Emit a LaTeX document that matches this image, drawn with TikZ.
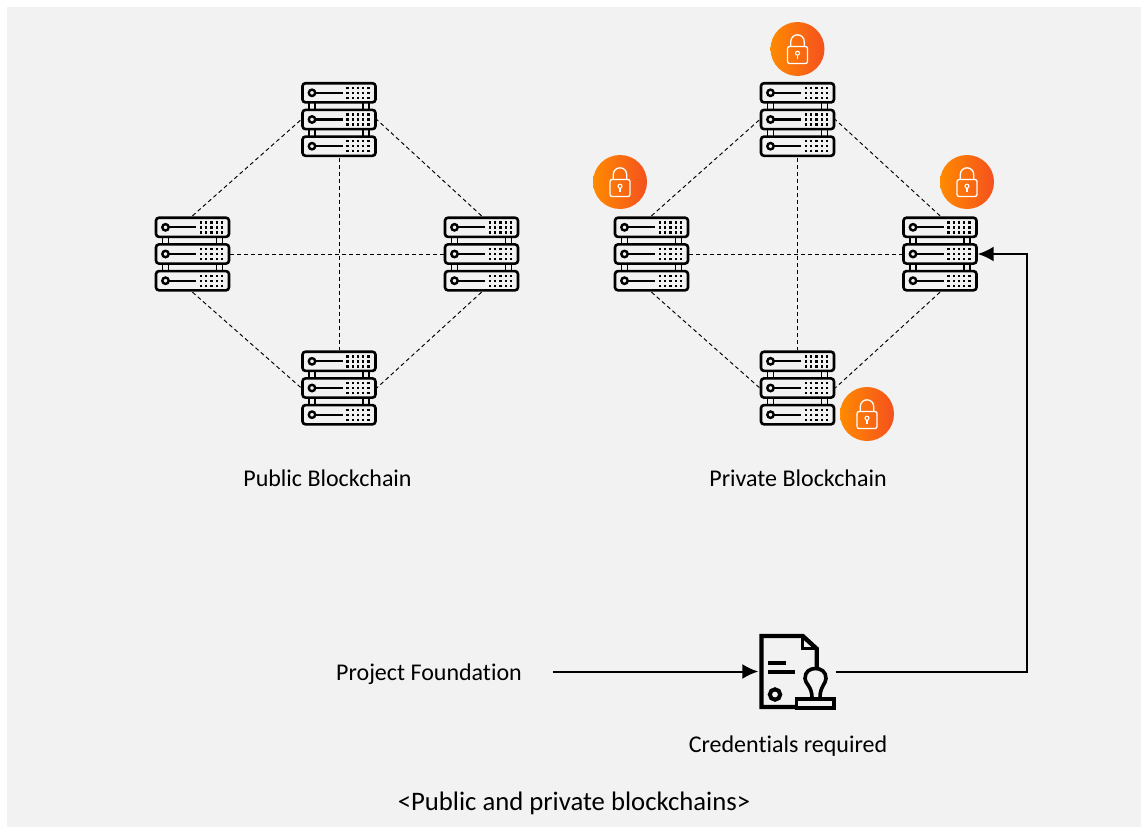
\documentclass[tikz,border=0pt]{standalone}
\usepackage{fontspec}
\setmainfont[Ligatures=NoCommon]{Carlito}
\usetikzlibrary{arrows.meta}
\definecolor{panelgray}{HTML}{F2F2F2}
\definecolor{lockleft}{HTML}{FF8A00}
\definecolor{lockright}{HTML}{F4511E}
\tikzset{
  serverbox/.style={minimum width=75pt,minimum height=76pt,inner sep=0pt},
  stampbox/.style={minimum width=77pt,minimum height=76pt,inner sep=0pt},
  lockbadge/.style={circle,minimum size=54pt,inner sep=0pt,left color=lockleft,right color=lockright},
  caption/.style={font=\fontsize{24}{29}\selectfont},
  peerline/.style={line width=.95pt,dash pattern=on 4pt off 3pt},
  flowline/.style={line width=2pt,-{Latex[length=16pt,width=15pt]}},
  serverrack/.pic={
    \draw[line width=2.6pt,rounded corners=3pt] (-36.5,-9.6) rectangle (36.5,9.6);
    \draw[line width=2.4pt] (-27,0) circle (3.2pt);
    \draw[line width=2.2pt] (-24,0) -- (3.5,0);
    \foreach \row in {-5,0,5}
      \foreach \col in {8.5,13.75,19,24.25,29.5}
        \fill (\col-1.2,\row-1.2) rectangle (\col+1.2,\row+1.2);
  },
  serverstack/.pic={
    \foreach \ypos in {-26.7,0,26.7}
      \pic at (0,\ypos) {serverrack};
    \foreach \ypos in {-13.35,13.35} {
      \draw[line width=1.8pt] (-30,\ypos-3) -- (-30,\ypos+3) (-24,\ypos-3) -- (-24,\ypos+3);
      \draw[line width=1.8pt] (24,\ypos-3) -- (24,\ypos+3) (30,\ypos-3) -- (30,\ypos+3);
    }
  },
  lockicon/.pic={
    \draw[white,line width=1.3pt,rounded corners=2pt] (-10,-2.5) rectangle (10,14.5);
    \draw[white,line width=1.3pt] (-6.7,-2.5) -- (-6.7,-7.5) arc (180:360:6.7) -- (6.7,-2.5);
    \draw[white,line width=1.1pt] (0,4.2) circle (2pt);
    \draw[white,line width=1.1pt] (0,6.2) -- (0,9.5);
  },
  stampicon/.pic={
    \draw[line width=4.4pt,miter limit=4] (-1,35.5) -- (-35.5,35.5) -- (-35.5,-35.5) -- (5.7,-35.5) -- (19.7,-22.7) -- (19.7,-4);
    \draw[line width=3.4pt] (5.7,-35.5) -- (5.7,-23) -- (19.7,-23);
    \draw[line width=4pt] (-29,-8.7) -- (-11,-8.7) (-29,.7) -- (-2,.7);
    \draw[line width=4pt] (-22,23) circle (5.2pt);
    \draw[line width=3.6pt] (-.5,27.2) rectangle (37,36.5);
    \draw[line width=3.6pt] (15,26) .. controls (15,15) and (8,12) .. (8,7)
      .. controls (8,0) and (13,-3) .. (18.5,-3)
      .. controls (24,-3) and (29,0) .. (29,7)
      .. controls (29,12) and (23,15) .. (23,26);
  }
}
\begin{document}
\begin{tikzpicture}[x=1pt,y=-1pt]
  \useasboundingbox (0,0) rectangle (1141,827);
  \fill[panelgray] (7,7) rectangle (1141,827);

  \foreach \name/\xpos/\ypos in {pubtop/339/119.5,publeft/192.5/254,pubright/481.5/254,pubbottom/339/388,
                                 privtop/797.5/119.5,privleft/651.5/254,privright/940/254,privbottom/797.5/388} {
    \node[serverbox] (\name) at (\xpos,\ypos) {};
    \pic at (\xpos,\ypos) {serverstack};
  }

  \draw[peerline] (pubtop.south) -- (pubbottom.north);
  \draw[peerline] (publeft.east) -- (pubright.west);
  \draw[peerline] (publeft.north) -- (pubtop.west);
  \draw[peerline] (pubright.north) -- (pubtop.east);
  \draw[peerline] (publeft.south) -- (pubbottom.west);
  \draw[peerline] (pubright.south) -- (pubbottom.east);

  \draw[peerline] (privtop.south) -- (privbottom.north);
  \draw[peerline] (privleft.east) -- (privright.west);
  \draw[peerline] (privleft.north) -- (privtop.west);
  \draw[peerline] (privright.north) -- (privtop.east);
  \draw[peerline] (privleft.south) -- (privbottom.west);
  \draw[peerline] (privright.south) -- (privbottom.east);

  \foreach \name/\xpos/\ypos in {locktop/797.5/49,lockleft/620/182,lockright/967/182,lockbottom/867/414} {
    \node[lockbadge] (\name) at (\xpos,\ypos) {};
    \pic at (\xpos,\ypos) {lockicon};
  }

  \node[caption] (publabel) at (327.5,478) {Public Blockchain};
  \node[caption] (privlabel) at (798,478) {Private Blockchain};
  \node[caption] (foundation) at (429,674) {Project Foundation};
  \node[caption] (credlabel) at (788,746) {Credentials required};
  \node[font=\fontsize{26.7}{32}\selectfont] (title) at (574,803) {<Public and private blockchains>};

  \node[stampbox] (stamp) at (797,671.5) {};
  \pic at (797,671.5) {stampicon};
  \coordinate (flowstart) at (553,671.5);
  \coordinate (corner) at (1027,671.5);

  \draw[flowline] (flowstart) -- (stamp.west);
  \draw[flowline] (stamp.east) -- (corner) -- (corner |- privright.east) -- (privright.east);
\end{tikzpicture}
\end{document}
